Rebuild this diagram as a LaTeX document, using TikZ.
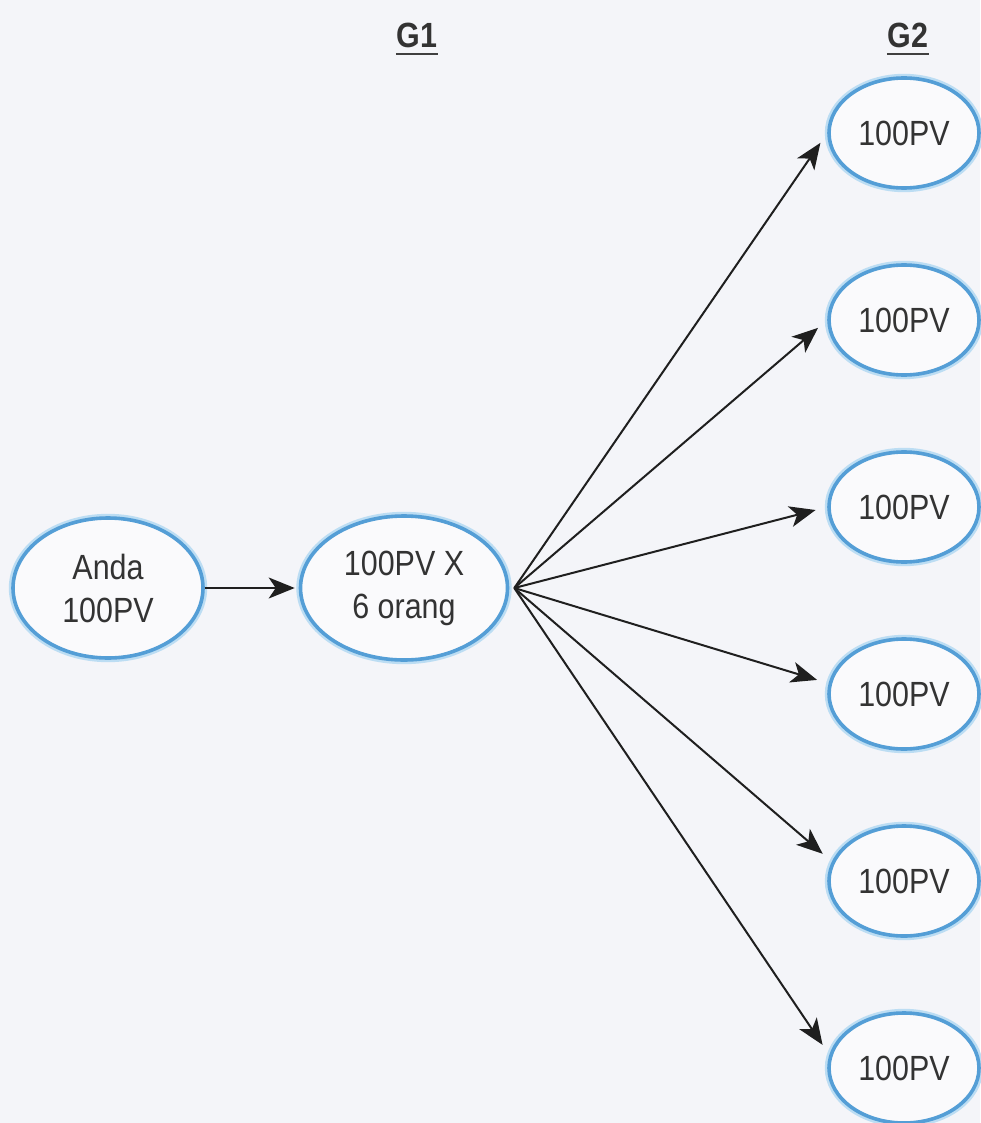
\documentclass[tikz,border=0pt]{standalone}
\usepackage{fontspec}
\setmainfont{Liberation Sans}
\newfontfamily\narrowsans[FakeStretch=0.87]{Liberation Sans}
\usepackage{tikz}
\usetikzlibrary{shapes.geometric, arrows.meta}
\definecolor{ringblue}{RGB}{84,158,214}
\definecolor{ringglow}{RGB}{188,221,243}
\definecolor{paper}{RGB}{244,245,249}

\begin{document}
\begin{tikzpicture}[x=0.5pt, y=-0.5pt, thick]
  \tikzset{
    ring/.style={ellipse, draw=ringblue, line width=1.8pt, fill=white!55!paper,
      preaction={draw=ringglow, line width=4.2pt}, inner sep=0pt, align=center,
      font=\narrowsans\fontsize{17.5}{21.5}\selectfont, text=black!80},
    link/.style={-{Stealth[length=13pt, width=10.5pt, inset=3.5pt]}, line width=1pt, black!88, shorten >=6pt},
    head/.style={inner sep=0pt, font=\narrowsans\bfseries\fontsize{17.5}{21}\selectfont, text=black!80}
  }

  \fill [paper] (0, 0) rectangle (980, 1123);
  \useasboundingbox (0, 0) rectangle (980, 1123);

  \node [head] (g1-label) at (417, 35) {G1};
  \node [head] (g2-label) at (908, 35) {G2};
  \foreach \l in {g1-label, g2-label} {
    \draw [line width=1.2pt, black!75] ([yshift=-3pt]\l.south west) -- ([yshift=-3pt]\l.south east);
  }

  \node [ring, minimum width=95pt, minimum height=70pt] (anda) at (108, 588) {Anda\\100PV};
  \node [ring, minimum width=103.5pt, minimum height=72pt] (g1) at (404, 588) {100PV X\\6 orang};
  \coordinate (fan) at ([xshift=2.5pt]g1.east);

  \foreach \i in {1, 2, ..., 6} {
    \node [ring, minimum width=75pt, minimum height=55pt] (g2-\i) at (904, {133 + (\i - 1) * 187}) {100PV};
  }

  % Edges
  \draw [link, shorten >=2pt] (anda) -- (g1);

  \foreach \i/\a in {1/180, 2/180, 3/180, 4/172, 5/165, 6/170} {
    \draw [link] (fan) -- (g2-\i.\a);
  }

\end{tikzpicture}
\end{document}
